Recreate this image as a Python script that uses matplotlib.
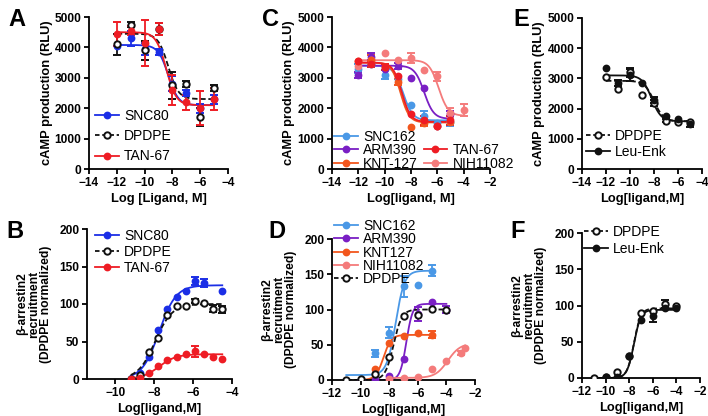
import matplotlib
matplotlib.use("Agg")
import matplotlib.pyplot as plt
import numpy as np
from matplotlib.lines import Line2D

W, H, DPI = 708, 416, 100

plt.rcParams["font.family"] = ["Liberation Sans", "DejaVu Sans"]
plt.rcParams["font.weight"] = "bold"
plt.rcParams["axes.labelweight"] = "bold"

# ---------------- data ----------------
# Panel A: cAMP, log[ligand]
a_x = [-12, -11, -10, -9, -8, -7, -6, -5]
a_snc80 = [4050, 4300, 3950, 3850, 2800, 2500, 2000, 2300]
a_snc80_err = [0, 250, 200, 100, 250, 100, 150, 150]
a_dpdpe = [4100, 4750, 3900, 4600, 2750, 2800, 1700, 2650]
a_dpdpe_err = [350, 80, 300, 200, 450, 100, 300, 100]
a_tan67 = [4450, 4550, 4150, 4600, 2600, 2200, 2000, 2300]
a_tan67_err = [400, 150, 750, 200, 500, 250, 550, 350]
# fit parameters: left plateau, right plateau, logEC50, hill
a_fit = {"SNC80": (4080, 2100, -8.3, 1.2), "DPDPE": (4450, 2300, -8.3, 1.2),
         "TAN-67": (4500, 2100, -8.45, 1.2)}

# Panel B: beta-arrestin2, log[ligand]
b_x = [-9.2, -8.73, -8.26, -7.79, -7.32, -6.85, -6.38, -5.91, -5.44, -4.97, -4.5]
b_snc80 = [0, 8, 30, 65, 93, 109, 117, 131, 128, np.nan, 118]
b_snc80_err = [0, 0, 0, 0, 0, 0, 0, 5, 5, 0, 0]
b_dpdpe = [0, 6, 36, 55, 86, 97, 98, 104, 101, 94, 93]
b_dpdpe_err = [0, 0, 0, 0, 0, 0, 0, 3, 0, 5, 5]
b_tan67 = [0, 2, 8, 17, 25, 30, 33, 37, 33, 29, 27]
b_tan67_err = [0, 0, 0, 0, 0, 0, 0, 7, 0, 0, 0]
b_fit = {"SNC80": (0, 125, -7.75, 1.0), "DPDPE": (0, 100, -7.95, 1.0),
         "TAN-67": (0, 33, -7.75, 1.0)}

# Panel C: cAMP, log[ligand]
c_x = [-12, -11, -10, -9, -8, -7, -6, -5, -4]
c_snc162 = [3300, 3450, 3100, 2950, 2100, 1750, 1500, 1550, np.nan]
c_snc162_err = [150, 100, 150, 0, 0, 150, 0, 150, 0]
c_arm390 = [3100, 3700, 3300, 3400, 3000, 2650, 1400, 1800, np.nan]
c_arm390_err = [100, 100, 0, 100, 0, 0, 0, 100, 0]
c_knt127 = [3550, 3600, 3350, 2850, 1370, 1500, 1400, 1550, np.nan]
c_knt127_err = [0, 150, 100, 100, 0, 100, 0, 0, 0]
c_tan67 = [3550, 3450, 3350, 3050, 1800, 1600, 1400, 1600, np.nan]
c_tan67_err = [0, 100, 100, 0, 0, 150, 0, 150, 0]
c_nih11082 = [3400, 3600, 3800, 3600, 3650, 3250, 3050, 1850, 1950]
c_nih11082_err = [0, 0, 0, 0, 150, 0, 150, 150, 200]
c_fit = {"SNC162": (3400, 1600, -8.6, 1.2), "ARM390": (3400, 1650, -7.0, 1.2),
         "KNT-127": (3500, 1530, -8.8, 1.3), "TAN-67": (3500, 1550, -8.7, 1.3),
         "NIH11082": (3580, 1750, -5.9, 1.2)}

# Panel D: beta-arrestin2, log[ligand]
d_x = [-11, -10, -9, -8, -7, -6, -5, -4, -3, -2.7]
d_snc162 = [np.nan, np.nan, 38, 67, 133, 135, 155, np.nan, np.nan, np.nan]
d_snc162_err = [0, 0, 5, 8, 15, 0, 8, 0, 0, 0]
d_arm390 = [np.nan, 0, 0, 5, 30, 93, 110, 100, np.nan, np.nan]
d_arm390_err = [0, 0, 0, 0, 0, 10, 0, 5, 0, 0]
d_knt127 = [np.nan, np.nan, 15, 52, 62, 67, 64, np.nan, np.nan, np.nan]
d_knt127_err = [0, 0, 0, 0, 0, 0, 5, 0, 0, 0]
d_nih11082 = [np.nan, np.nan, np.nan, 2, 3, 4, 15, 27, 38, 45]
d_nih11082_err = [0, 0, 0, 0, 0, 0, 0, 0, 3, 0]
d_dpdpe = [0, 1, 9, 32, 91, 92, 101, 99, np.nan, np.nan]
d_dpdpe_err = [0, 0, 0, 0, 0, 0, 0, 0, 0, 0]
d_fit = {"SNC162": (7, 155, -7.55, 1.4, -11, -5), "ARM390": (0, 108, -6.8, 2.0, -10, -4),
         "KNT127": (0, 64, -8.4, 1.6, -10, -5), "NIH11082": (3, 52, -3.9, 1.0, -8, -2.7),
         "DPDPE": (0, 100, -7.7, 1.5, -11, -4)}

# Panel E: cAMP, log[ligand]
e_x = [-12, -11, -10, -9, -8, -7, -6, -5]
e_dpdpe = [3050, 2650, 3200, 2450, 2200, 1600, 1550, 1550]
e_dpdpe_err = [0, 0, 150, 0, 100, 50, 0, 0]
e_leuenk = [3350, 2850, 3100, 2850, 2300, 1750, 1650, 1500]
e_leuenk_err = [0, 100, 200, 0, 100, 0, 0, 100]
e_fit = {"DPDPE": (2920, 1580, -8.0, 1.1), "Leu-Enk": (3100, 1580, -8.2, 1.1)}

# Panel F: beta-arrestin2, log[ligand]
f_x = [-11, -10, -9, -8, -7, -6, -5, -4]
f_dpdpe = [0, 1, 8, 30, 90, 93, 102, 99]
f_dpdpe_err = [0, 0, 0, 0, 0, 0, 5, 0]
f_leuenk = [np.nan, 1, 2, 31, 80, 85, 97, 96]
f_leuenk_err = [0, 0, 0, 0, 0, 8, 0, 0]
f_fit = {"DPDPE": (0, 96, -7.6, 1.5), "Leu-Enk": (0, 94, -7.6, 1.5)}

# colours
BLUE = "#1b2ee6"
RED = "#ee1c24"
BLACK = "#111111"
SKY = "#4a98e6"
PURPLE = "#7a1fc4"
ORANGE = "#f2561d"
SALMON = "#f47b7b"


def px_rect(x0, y0, x1, y1):
    # pixel box (top-left origin) -> figure fraction rect
    return [x0 / W, 1 - y1 / H, (x1 - x0) / W, (y1 - y0) / H]


def logistic(x, left, right, logec50, hill):
    return left + (right - left) / (1 + 10 ** ((logec50 - x) * hill))


def style_axes(ax, xlim, xticks, ylim, yticks):
    ax.set_xlim(*xlim)
    ax.set_ylim(*ylim)
    ax.set_xticks(xticks)
    ax.set_yticks(yticks)
    for s in ("top", "right"):
        ax.spines[s].set_visible(False)
    for s in ("left", "bottom"):
        ax.spines[s].set_linewidth(1.3)
    ax.tick_params(width=1.3, length=3.5, labelsize=8.6, pad=2)
    for lab in ax.get_xticklabels() + ax.get_yticklabels():
        lab.set_fontweight("bold")
    ax.patch.set_alpha(0)


def series(ax, x, y, err, color, fit, xr, open_marker=False, dashed=False):
    x = np.asarray(x, float)
    y = np.asarray(y, float)
    err = np.asarray(err, float)
    mfc = "white" if open_marker else color
    ms = 4.6 if open_marker else 4.2
    ax.errorbar(x, y, yerr=np.where(err > 0, err, np.nan), fmt="o", color=color,
                mfc=mfc, mec=color, mew=1.4, ms=ms, elinewidth=1.3, capsize=3,
                capthick=1.3, zorder=3)
    xs = np.linspace(xr[0], xr[1], 200)
    ax.plot(xs, logistic(xs, *fit), color=color, lw=1.3,
            ls=(0, (3, 1.5)) if dashed else "-", zorder=2)


def handle(color, open_marker=False, dashed=False):
    return Line2D([], [], color=color, lw=1.3, ls=(0, (2.5, 1.5)) if dashed else "-",
                  marker="o", ms=4.6 if open_marker else 4.2,
                  mfc="white" if open_marker else color, mec=color, mew=1.4)


def legend(fig, ax, handles, labels, x, y, ncol=1, spacing=0.25):
    ax.legend(handles, labels, loc="upper left", bbox_to_anchor=(x / W, 1 - y / H),
              bbox_transform=fig.transFigure, frameon=False, ncol=ncol,
              prop={"size": 10, "weight": "normal"}, handlelength=1.7,
              handletextpad=0.4, labelspacing=spacing, borderpad=0,
              borderaxespad=0, columnspacing=0.4)


fig = plt.figure(figsize=(W / DPI, H / DPI), dpi=DPI)
fig.patch.set_facecolor("white")

camp_label = "cAMP production (RLU)"
barr_label = "\u03b2-arrestin2\nrecruitment\n(DPDPE normalized)"

# ---- A ----
ax = fig.add_axes(px_rect(89, 17, 228, 169))
style_axes(ax, (-14, -4), range(-14, -3, 2), (0, 5000), range(0, 5001, 1000))
series(ax, a_x, a_snc80, a_snc80_err, BLUE, a_fit["SNC80"], (-12, -5))
series(ax, a_x, a_dpdpe, a_dpdpe_err, BLACK, a_fit["DPDPE"], (-12, -5), True, True)
series(ax, a_x, a_tan67, a_tan67_err, RED, a_fit["TAN-67"], (-12, -5))
ax.set_xlabel("Log [Ligand, M]", fontsize=9.3, labelpad=3)
ax.set_ylabel(camp_label, fontsize=9.3, labelpad=1)
legend(fig, ax, [handle(BLUE), handle(BLACK, True, True), handle(RED)],
       ["SNC80", "DPDPE", "TAN-67"], 95, 109, spacing=0.45)

# ---- B ----
ax = fig.add_axes(px_rect(87, 229, 232, 379))
style_axes(ax, (-11.45, -4), range(-10, -3, 2), (0, 200), range(0, 201, 50))
series(ax, b_x, b_snc80, b_snc80_err, BLUE, b_fit["SNC80"], (-9.2, -4.5))
series(ax, b_x, b_dpdpe, b_dpdpe_err, BLACK, b_fit["DPDPE"], (-9.2, -4.5), True, True)
series(ax, b_x, b_tan67, b_tan67_err, RED, b_fit["TAN-67"], (-9.2, -4.5))
ax.set_xlabel("Log[ligand,M]", fontsize=9.3, labelpad=3)
ax.set_ylabel(barr_label, fontsize=8.7, labelpad=5, linespacing=1.0)
legend(fig, ax, [handle(BLUE), handle(BLACK, True, True), handle(RED)],
       ["SNC80", "DPDPE", "TAN-67"], 95, 229, spacing=0.15)

# ---- C ----
ax = fig.add_axes(px_rect(332, 17, 490, 169))
style_axes(ax, (-14, -2), range(-14, -1, 2), (0, 5000), range(0, 5001, 1000))
series(ax, c_x, c_snc162, c_snc162_err, SKY, c_fit["SNC162"], (-12, -5))
series(ax, c_x, c_arm390, c_arm390_err, PURPLE, c_fit["ARM390"], (-12, -5))
series(ax, c_x, c_nih11082, c_nih11082_err, SALMON, c_fit["NIH11082"], (-12, -4))
series(ax, c_x, c_knt127, c_knt127_err, ORANGE, c_fit["KNT-127"], (-12, -5))
series(ax, c_x, c_tan67, c_tan67_err, RED, c_fit["TAN-67"], (-12, -5))
ax.set_xlabel("Log[ligand, M]", fontsize=9.3, labelpad=3)
ax.set_ylabel(camp_label, fontsize=9.3, labelpad=2)
blank = Line2D([], [], color="none")
legend(fig, ax, [handle(SKY), handle(PURPLE), handle(ORANGE), blank, handle(RED), handle(SALMON)],
       ["SNC162", "ARM390", "KNT-127", "", "TAN-67", "NIH11082"], 334, 130, ncol=2,
       spacing=-0.05)

# ---- D ----
ax = fig.add_axes(px_rect(332, 239, 475, 380))
style_axes(ax, (-12, -2), range(-12, -1, 2), (0, 200), range(0, 201, 50))
series(ax, d_x, d_snc162, d_snc162_err, SKY, d_fit["SNC162"][:4], d_fit["SNC162"][4:])
series(ax, d_x, d_arm390, d_arm390_err, PURPLE, d_fit["ARM390"][:4], d_fit["ARM390"][4:])
series(ax, d_x, d_knt127, d_knt127_err, ORANGE, d_fit["KNT127"][:4], d_fit["KNT127"][4:])
series(ax, d_x, d_nih11082, d_nih11082_err, SALMON, d_fit["NIH11082"][:4], d_fit["NIH11082"][4:])
series(ax, d_x, d_dpdpe, d_dpdpe_err, BLACK, d_fit["DPDPE"][:4], d_fit["DPDPE"][4:], True, True)
ax.set_xlabel("Log[ligand,M]", fontsize=9.3, labelpad=3)
ax.set_ylabel(barr_label, fontsize=8.7, labelpad=5, linespacing=1.0)
legend(fig, ax, [handle(SKY), handle(PURPLE), handle(ORANGE), handle(SALMON),
                 handle(BLACK, True, True)],
       ["SNC162", "ARM390", "KNT127", "NIH11082", "DPDPE"], 334, 219, spacing=-0.05)

# ---- E ----
ax = fig.add_axes(px_rect(582, 18, 702, 169))
style_axes(ax, (-14, -4), range(-14, -3, 2), (0, 5000), range(0, 5001, 1000))
series(ax, e_x, e_dpdpe, e_dpdpe_err, BLACK, e_fit["DPDPE"], (-12, -5), True, True)
series(ax, e_x, e_leuenk, e_leuenk_err, BLACK, e_fit["Leu-Enk"], (-12, -5))
ax.set_xlabel("Log[ligand,M]", fontsize=9.3, labelpad=3)
ax.set_ylabel(camp_label, fontsize=9.3, labelpad=2)
legend(fig, ax, [handle(BLACK, True, True), handle(BLACK)], ["DPDPE", "Leu-Enk"],
       586, 129, spacing=0.15)

# ---- F ----
ax = fig.add_axes(px_rect(582, 233, 700, 378))
style_axes(ax, (-12, -2), range(-12, -1, 2), (0, 200), range(0, 201, 50))
series(ax, f_x, f_dpdpe, f_dpdpe_err, BLACK, f_fit["DPDPE"], (-11, -4), True, True)
series(ax, f_x, f_leuenk, f_leuenk_err, BLACK, f_fit["Leu-Enk"], (-11, -4))
ax.set_xlabel("Log[ligand,M]", fontsize=9.3, labelpad=3)
ax.set_ylabel(barr_label, fontsize=8.7, labelpad=5, linespacing=1.0)
legend(fig, ax, [handle(BLACK, True, True), handle(BLACK)], ["DPDPE", "Leu-Enk"],
       584, 225, spacing=0.2)

# panel letters
for letter, x, y in [("A", 8, 26), ("B", 6, 238), ("C", 262, 26), ("D", 268, 238),
                     ("E", 513, 26), ("F", 510, 238)]:
    fig.text(x / W, 1 - y / H, letter, fontsize=17, fontweight="bold")

fig.savefig("out.png", dpi=DPI)
plt.close(fig)
